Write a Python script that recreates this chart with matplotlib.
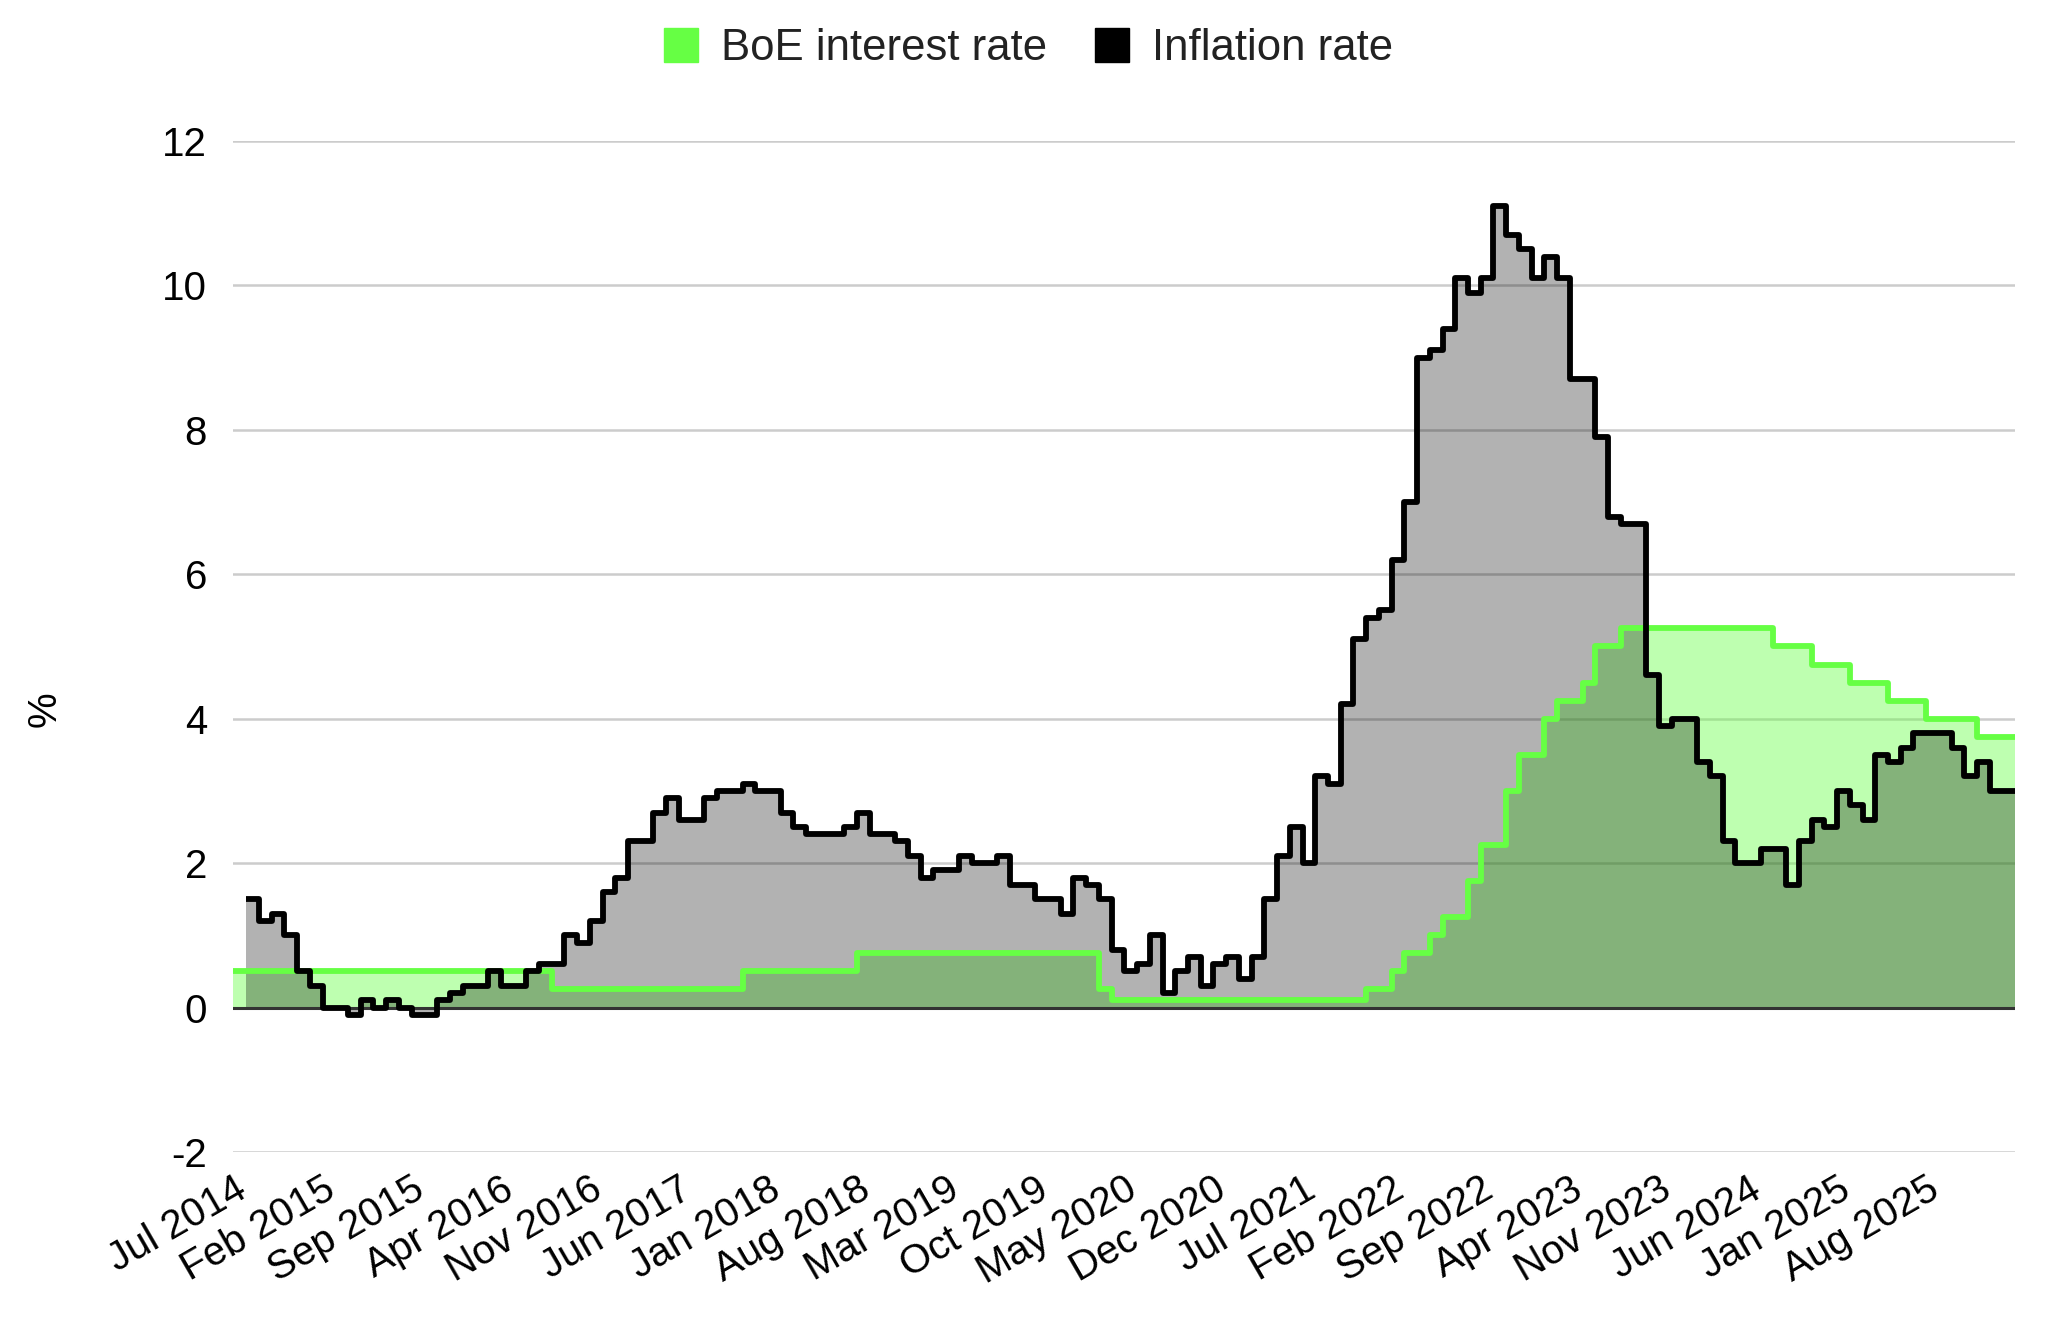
import matplotlib
matplotlib.use("Agg")
import matplotlib.pyplot as plt
import matplotlib.transforms as mtransforms
from matplotlib.lines import Line2D
import numpy as np

plt.rcParams['font.family'] = ['Liberation Sans', 'DejaVu Sans']

# Months from Jul 2014 (index 0) to Mar 2026 (index 140, right edge)
n_months = 140

# BoE Bank Rate, monthly Jul 2014 .. Feb 2026
boe_rate = (
    [0.5] * 25 +            # Jul 2014 - Jul 2016
    [0.25] * 15 +           # Aug 2016 - Oct 2017
    [0.5] * 9 +             # Nov 2017 - Jul 2018
    [0.75] * 19 +           # Aug 2018 - Feb 2020
    [0.25] +                # Mar 2020
    [0.1] * 20 +            # Apr 2020 - Nov 2021
    [0.25, 0.25, 0.5, 0.75, 0.75, 1.0, 1.25, 1.25, 1.75, 2.25, 2.25, 3.0,  # Dec 2021 - Nov 2022
     3.5, 3.5, 4.0, 4.25, 4.25, 4.5, 5.0, 5.0] +                           # Dec 2022 - Jul 2023
    [5.25] * 12 +           # Aug 2023 - Jul 2024
    [5.0] * 3 +             # Aug - Oct 2024
    [4.75] * 3 +            # Nov 2024 - Jan 2025
    [4.5] * 3 +             # Feb - Apr 2025
    [4.25] * 3 +            # May - Jul 2025
    [4.0] * 4 +             # Aug - Nov 2025
    [3.75] * 3              # Dec 2025 - Feb 2026
)

# CPI inflation, monthly Aug 2014 .. Feb 2026
inflation = [
    1.5, 1.2, 1.3, 1.0, 0.5,
    0.3, 0.0, 0.0, -0.1, 0.1, 0.0, 0.1, 0.0, -0.1, -0.1, 0.1, 0.2,
    0.3, 0.3, 0.5, 0.3, 0.3, 0.5, 0.6, 0.6, 1.0, 0.9, 1.2, 1.6,
    1.8, 2.3, 2.3, 2.7, 2.9, 2.6, 2.6, 2.9, 3.0, 3.0, 3.1, 3.0,
    3.0, 2.7, 2.5, 2.4, 2.4, 2.4, 2.5, 2.7, 2.4, 2.4, 2.3, 2.1,
    1.8, 1.9, 1.9, 2.1, 2.0, 2.0, 2.1, 1.7, 1.7, 1.5, 1.5, 1.3,
    1.8, 1.7, 1.5, 0.8, 0.5, 0.6, 1.0, 0.2, 0.5, 0.7, 0.3, 0.6,
    0.7, 0.4, 0.7, 1.5, 2.1, 2.5, 2.0, 3.2, 3.1, 4.2, 5.1, 5.4,
    5.5, 6.2, 7.0, 9.0, 9.1, 9.4, 10.1, 9.9, 10.1, 11.1, 10.7, 10.5,
    10.1, 10.4, 10.1, 8.7, 8.7, 7.9, 6.8, 6.7, 6.7, 4.6, 3.9, 4.0,
    4.0, 3.4, 3.2, 2.3, 2.0, 2.0, 2.2, 2.2, 1.7, 2.3, 2.6, 2.5,
    3.0, 2.8, 2.6, 3.5, 3.4, 3.6, 3.8, 3.8, 3.8, 3.6, 3.2, 3.4,
    3.0, 3.0,
]
inflation_start = 1  # Aug 2014

tick_labels = ["Jul 2014", "Feb 2015", "Sep 2015", "Apr 2016", "Nov 2016", "Jun 2017",
               "Jan 2018", "Aug 2018", "Mar 2019", "Oct 2019", "May 2020", "Dec 2020",
               "Jul 2021", "Feb 2022", "Sep 2022", "Apr 2023", "Nov 2023", "Jun 2024",
               "Jan 2025", "Aug 2025"]
tick_step = 7

GREEN = '#66ff44'

fig = plt.figure(figsize=(20.48, 13.18), dpi=100)
ax = fig.add_axes([0.114, 0.126, 0.870, 0.767])

boe_edges = np.arange(len(boe_rate) + 1)
inf_edges = np.arange(inflation_start, inflation_start + len(inflation) + 1)

# fills
ax.stairs(boe_rate, boe_edges, baseline=0, fill=True, color=GREEN, alpha=0.42,
          linewidth=0, zorder=2)
ax.stairs(inflation, inf_edges, baseline=0, fill=True, color='black', alpha=0.3,
          linewidth=0, zorder=3)

# lines
bx = np.repeat(boe_edges, 2)[1:-1]
by = np.repeat(boe_rate, 2)
ax.plot(bx, by, color=GREEN, lw=4.2, solid_joinstyle='round', solid_capstyle='butt', zorder=5)
ix = np.repeat(inf_edges, 2)[1:-1]
iy = np.repeat(inflation, 2)
ax.plot(ix, iy, color='black', lw=4.2, solid_joinstyle='round', solid_capstyle='butt', zorder=6)

ax.axhline(0, color='#333333', lw=2.2, zorder=4)

ax.set_xlim(0, n_months)
ax.set_ylim(-2, 12)
ax.set_yticks(np.arange(-2, 13, 2))
ax.set_yticklabels([str(v) for v in np.arange(-2, 13, 2)])
ax.grid(axis='y', color='#cccccc', lw=1.8, zorder=0)
ax.set_axisbelow(True)

ax.set_xticks(np.arange(0, tick_step * len(tick_labels), tick_step))
ax.set_xticklabels(tick_labels, rotation=30, ha='right', va='top', rotation_mode='anchor')
offset = mtransforms.ScaledTranslation(29 / 72, 0, fig.dpi_scale_trans)
for lab in ax.get_xticklabels():
    lab.set_transform(lab.get_transform() + offset)

ax.tick_params(axis='both', length=0, labelsize=29, colors='#000000')
ax.tick_params(axis='y', pad=19)
ax.tick_params(axis='x', pad=13)
for s in ax.spines.values():
    s.set_visible(False)

fig.text(0.022, 0.462, '%', rotation=90, fontsize=29, ha='center', va='center')

handles = [Line2D([], [], marker='s', color=GREEN, linestyle='none', markersize=25),
           Line2D([], [], marker='s', color='black', linestyle='none', markersize=25)]
fig.legend(handles, ['BoE interest rate', 'Inflation rate'], loc='center',
           bbox_to_anchor=(0.5, 0.963), ncol=2, frameon=False, fontsize=31.5,
           handletextpad=0.3, columnspacing=0.9, handlelength=1.2,
           labelcolor='#222222')

fig.savefig('out.png', dpi=100)
